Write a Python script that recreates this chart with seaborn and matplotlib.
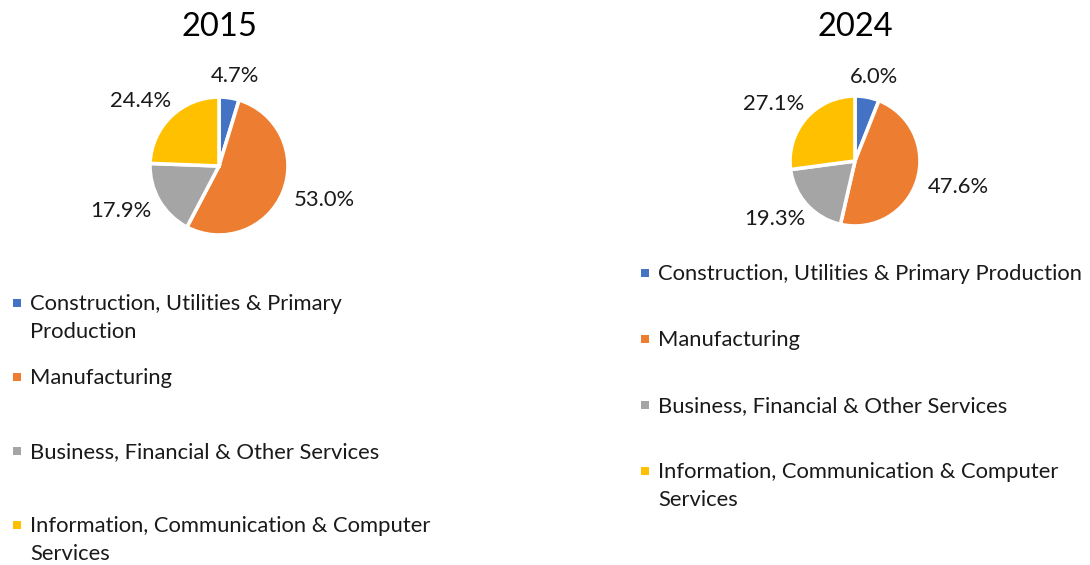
import numpy as np
import matplotlib
matplotlib.use("Agg")
import matplotlib.pyplot as plt
import seaborn as sns

categories = ["Construction, Utilities & Primary Production",
              "Manufacturing",
              "Business, Financial & Other Services",
              "Information, Communication & Computer Services"]
legend_2015 = ["Construction, Utilities & Primary\nProduction",
               "Manufacturing",
               "Business, Financial & Other Services",
               "Information, Communication & Computer\nServices"]
legend_2024 = ["Construction, Utilities & Primary Production",
               "Manufacturing",
               "Business, Financial & Other Services",
               "Information, Communication & Computer\nServices"]
years = ["2015", "2024"]
values_2015 = [4.7, 53.0, 17.9, 24.4]
values_2024 = [6.0, 47.6, 19.3, 27.1]
colors = ["#4472C4", "#ED7D31", "#A5A5A5", "#FFC000"]

sns.set_theme(style="white")
plt.rcParams['font.family'] = ['Lato', 'DejaVu Sans']

W, H = 1090, 565
fig = plt.figure(figsize=(W / 100, H / 100), dpi=100)
over = fig.add_axes([0, 0, 1, 1])
over.set_xlim(0, W)
over.set_ylim(H, 0)
over.axis("off")

panels = [
    dict(year=years[0], vals=values_2015, leg=legend_2015, cx=219, cy=166, r=69,
         tx=219, lx=17, ly0=303, lstep=74),
    dict(year=years[1], vals=values_2024, leg=legend_2024, cx=855, cy=161, r=65,
         tx=855, lx=645, ly0=273, lstep=66),
]

renderer = fig.canvas.get_renderer()
pal = sns.color_palette(colors)

for p in panels:
    cx, cy, r = p["cx"], p["cy"], p["r"]
    ax = fig.add_axes([(cx - r) / W, 1 - (cy + r) / H, 2 * r / W, 2 * r / H])
    ax.pie(p["vals"], colors=pal, startangle=90, counterclock=False, radius=1,
           wedgeprops=dict(edgecolor="white", linewidth=2.6))
    ax.set_xlim(-1, 1)
    ax.set_ylim(-1, 1)
    ax.set_aspect("equal")

    # title
    over.text(p["tx"], 27, p["year"], ha="center", va="center", fontsize=23.5, color="black")

    # percentage labels
    vals = np.array(p["vals"])
    cum = np.cumsum(vals) - vals / 2
    total = vals.sum()
    for v, c in zip(vals, cum):
        ang = np.deg2rad(90 - c / total * 360)
        px = cx + 1.2 * r * np.cos(ang)
        py = cy - 1.2 * r * np.sin(ang)
        t = over.text(px, py, f"{v:.1f}%", ha="center", va="center", fontsize=15.8, color="#1a1a1a")
        bb = t.get_window_extent(renderer)
        w, h = bb.width, bb.height * 0.8
        t.set_position((px + np.cos(ang) * w / 2, py - np.sin(ang) * h / 2))

    # legend
    for i, (lab, col) in enumerate(zip(p["leg"], colors)):
        y = p["ly0"] + i * p["lstep"]
        over.scatter([p["lx"]], [y], marker="s", s=40, color=col, linewidths=0)
        over.text(p["lx"] + 13, y - 9, lab, ha="left", va="top", fontsize=15.8,
                  color="#1a1a1a", linespacing=1.5)

fig.savefig("out.png", dpi=100)
